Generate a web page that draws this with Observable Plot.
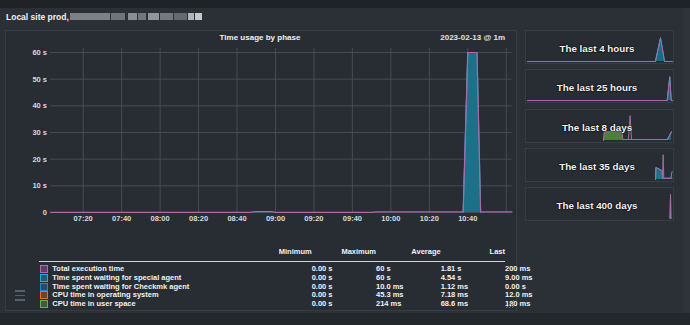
<!DOCTYPE html>
<html><head><meta charset="utf-8">
<script src="https://cdn.jsdelivr.net/npm/d3@7"></script>
<script src="https://cdn.jsdelivr.net/npm/@observablehq/plot@0.6"></script>
<style>
html,body{margin:0;padding:0}
body{width:690px;height:325px;overflow:hidden;position:relative;background:#2a3036;font-family:"Liberation Sans",Arial,sans-serif;color:#fff}
.abs{position:absolute}
.t{position:absolute;white-space:nowrap;line-height:1}
#topband{left:0;top:0;width:690px;height:8px;background:#1f2327}
#bottomband{left:0;top:313px;width:690px;height:12px;background:#23282d}
#rightstrip{left:683px;top:8px;width:7px;height:305px;background:#2e343a}
#main{left:5px;top:30px;width:510px;height:279px;border:1px solid #363d44;background:#272d33}
.mini{left:525px;width:147px;height:32px;border:1px solid #363d44;background:#272d33}
svg{overflow:visible}
</style></head><body>
<div id="topband" class="abs"></div>
<div id="bottomband" class="abs"></div>
<div id="rightstrip" class="abs"></div>
<div id="main" class="abs"></div>
<script>
// ---------- data ----------
const pageTitle = "Local site prod,";
const chartTitle = "Time usage by phase";
const chartDate = "2023-02-13 @ 1m";
const xDomain = ["07:03", "11:03"];
const xTickLabels = ["07:20","07:40","08:00","08:20","08:40","09:00","09:20","09:40","10:00","10:20","10:40"];
const xGridExtra = ["11:00"];
const yTicks = [0, 10, 20, 30, 40, 50, 60];
const yTickLabels = ["0", "10 s", "20 s", "30 s", "40 s", "50 s", "60 s"];

const totalTimes  = ["07:03","08:47","08:49","08:58","09:00","09:50","09:52","10:37:36","10:40","10:44:48","10:46:42","11:03"];
const totalValues = [0.05, 0.05, 0.3, 0.3, 0.05, 0.05, 0.2, 0.2, 60, 60, 0.2, 0.2];
const specialTimes  = ["10:37:36","10:40","10:44:48","10:46:42"];
const specialValues = [0, 60, 60, 0];

const seriesNames  = ["Total execution time","Time spent waiting for special agent","Time spent waiting for Checkmk agent","CPU time in operating system","CPU time in user space"];
const seriesColors = ["#b36cb3","#1fb0e0","#2b7fd4","#e0702c","#5cb846"];
const columnHeaders = ["Minimum","Maximum","Average","Last"];
const minLabels  = ["0.00 s","0.00 s","0.00 s","0.00 s","0.00 s"];
const maxLabels  = ["60 s","60 s","10.0 ms","45.3 ms","214 ms"];
const avgLabels  = ["1.81 s","4.54 s","1.12 ms","7.18 ms","68.6 ms"];
const lastLabels = ["200 ms","9.00 ms","0.00 s","12.0 ms","180 ms"];

// mini graphs (x = time before now, in hours or days)
const miniTitles = ["The last 4 hours","The last 25 hours","The last 8 days","The last 35 days","The last 400 days"];
const miniSpans  = [4, 25, 8, 35, 400];
const miniTotalX = [
  [-4, -0.47, -0.33, -0.22, 0],
  [-25, -0.91, -0.47, -0.22, 0],
  [-3.81, -3.76, -2.78, -2.74, -2.43, -2.34, -2.26, -0.28, -0.06],
  [-4.1, -4.0, -2.5, -2.4, -2.25, -2.1, -0.4, -0.1],
  [-6.5, -5.5, -4.5]
];
const miniTotalY = [
  [0, 0, 60, 0, 0],
  [0, 0, 60, 0, 0],
  [0, 22, 22, 2.5, 2.5, 62, 2.5, 2.5, 22],
  [0, 30, 22, 3, 62, 3, 3, 3, 22],
  [0, 60, 0]
];
const miniSpecialX = [
  [-0.47, -0.33, -0.22],
  [-0.91, -0.47, -0.22],
  [-2.74, -0.28, -0.06],
  [-4.1, -4.0, -2.5, -2.4, -0.4, -0.1],
  [-6.5, -5.5, -4.5]
];
const miniSpecialY = [
  [0, 58, 0],
  [0, 58, 0],
  [2.5, 2.5, 20],
  [0, 30, 22, 3, 3, 20],
  [0, 60, 0]
];
const miniUserX = [[], [], [-3.81, -3.76, -2.78, -2.74], [-4.1, -4.0, -2.5, -2.4], [-6.5, -5.5, -4.5]];
const miniUserY = [[], [], [0, 20, 20, 0], [0, 20, 18, 0], [0, 45, 0]];

// ---------- helpers ----------
const T = s => { const [h, m, sec] = s.split(":").map(Number); return new Date(Date.UTC(2023, 1, 13, h, m, sec || 0)); };
function text(str, x, y, o = {}) {
  const d = document.createElement("div");
  d.className = "t";
  d.textContent = str;
  const size = o.size || 7.5;
  d.style.fontSize = size + "px";
  d.style.fontWeight = o.weight || "bold";
  d.style.color = o.color || "#f2f2f2";
  d.style.left = x + "px";
  d.style.top = y + "px";
  const tx = o.anchor === "end" ? "-100%" : o.anchor === "middle" ? "-50%" : "0";
  d.style.transform = `translate(${tx},-50%)`;
  if (o.shadow) d.style.textShadow = "0 0 2px #000, 0 0 1px #000";
  document.body.appendChild(d);
  return d;
}
function box(x, y, w, h, bg) {
  const d = document.createElement("div");
  d.className = "abs";
  Object.assign(d.style, {left: x + "px", top: y + "px", width: w + "px", height: h + "px", background: bg});
  document.body.appendChild(d);
  return d;
}
const font = "'Liberation Sans', Arial, sans-serif";

// ---------- header ----------
text(pageTitle, 6, 17, {size: 8.5});
// obscured hostname
const blur = [[70,13,40,"#8a9096"],[111,13,14,"#7b8187"],[128,13,9,"#9aa0a5"],[138,13,8,"#7d8389"],[148,13,11,"#a3a8ad"],[160,13,13,"#80868c"],[174,13,13,"#6f757b"],[188,13,6,"#c9cdd1"],[195,13,7,"#e0e3e6"]];
blur.forEach(([x,y,w,c]) => { const b = box(x, y, w, 7, c); b.style.filter = "blur(0.7px)"; b.style.opacity = 0.85; });

text(chartTitle, 260, 37.7, {size: 8, anchor: "middle"});
text(chartDate, 505, 37.7, {size: 8, anchor: "end", color: "#e2e4e6"});

// ---------- main chart ----------
const totalData = totalTimes.map((t, i) => ({t: T(t), v: totalValues[i]}));
const specialData = specialTimes.map((t, i) => ({t: T(t), v: specialValues[i]}));
const xTicks = xTickLabels.map(T);
const gridTimes = xTickLabels.concat(xGridExtra).map(T);

const chart = Plot.plot({
  width: 520, height: 185,
  marginLeft: 50, marginRight: 8.5, marginTop: 8, marginBottom: 13,
  style: {background: "transparent", color: "#d6dadd", fontSize: "7.5px", fontWeight: "bold", fontFamily: font},
  x: {type: "utc", domain: xDomain.map(T), label: null},
  y: {domain: [0, 61.5], label: null},
  marks: [
    Plot.gridY(yTicks, {stroke: "#454c54", strokeOpacity: 1}),
    Plot.gridX(gridTimes, {stroke: "#454c54", strokeOpacity: 1}),
    Plot.areaY(specialData, {x: "t", y: "v", fill: "#1c7189", curve: "linear"}),
    Plot.lineY(specialData, {x: "t", y: "v", stroke: "#22a9d6", strokeWidth: 1}),
    Plot.lineY(totalData, {x: "t", y: "v", stroke: "#a86aa8", strokeWidth: 1.2}),
    Plot.axisY(yTicks, {tickSize: 0, tickPadding: 3.5, label: null, tickFormat: d => yTickLabels[yTicks.indexOf(d)]}),
    Plot.axisX(xTicks, {tickSize: 0, tickPadding: 3.5, label: null, tickFormat: d3.utcFormat("%H:%M")})
  ]
});
chart.style.position = "absolute";
chart.style.left = "0px";
chart.style.top = "40px";
document.body.appendChild(chart);

// ---------- legend ----------
const colX = [311.7, 376, 440.7, 505];
columnHeaders.forEach((h, i) => text(h, colX[i], 251.7, {size: 7.5, anchor: "end"}));
box(39, 260.5, 466, 1, "#cfd3d6");
const rowY = seriesNames.map((_, i) => 269.3 + i * 8.7);
seriesNames.forEach((n, i) => {
  const sw = box(39.5, rowY[i] - 4, 6, 6, d3.interpolateRgb("#272d33", seriesColors[i])(0.35));
  sw.style.border = "1px solid " + seriesColors[i];
  text(n, 52.3, rowY[i], {size: 7.5});
  [minLabels, maxLabels, avgLabels, lastLabels].forEach((col, j) => text(col[i], colX[j], rowY[i], {size: 7.5}));
});
// menu icon
[291, 295.5, 300].forEach(y => box(15, y - 0.75, 10, 1.5, "#56616b"));
// resize handle
const rh = document.createElementNS("http://www.w3.org/2000/svg", "svg");
rh.setAttribute("width", 10); rh.setAttribute("height", 10);
rh.style.position = "absolute"; rh.style.left = "505px"; rh.style.top = "299px";
rh.innerHTML = '<path d="M9 1L1 9M9 4L4 9M9 7L7 9" stroke="#7a838b" stroke-width="0.9"/>';
document.body.appendChild(rh);

// ---------- mini graphs ----------
const miniTops = [30, 69, 109, 148, 187];
miniTitles.forEach((title, i) => {
  const p = box(525, miniTops[i], 147, 32, "#272d33");
  p.className = "abs mini";
  p.style.top = miniTops[i] + "px";
  const tot = miniTotalX[i].map((x, j) => ({x, v: miniTotalY[i][j]}));
  const sp = miniSpecialX[i].map((x, j) => ({x, v: miniSpecialY[i][j]}));
  const us = miniUserX[i].map((x, j) => ({x, v: miniUserY[i][j]}));
  const m = Plot.plot({
    width: 145, height: 30, margin: 0,
    style: {background: "transparent"},
    x: {domain: [-miniSpans[i], 0], axis: null},
    y: {domain: [0, 75], axis: null},
    marks: [
      Plot.areaY(us, {x: "x", y: "v", fill: "#4e7f3a", curve: "linear"}),
      Plot.areaY(sp, {x: "x", y: "v", fill: "#1c7189", fillOpacity: 0.9, curve: "linear"}),
      Plot.lineY(sp, {x: "x", y: "v", stroke: "#22a9d6", strokeWidth: 1}),
      Plot.lineY(tot, {x: "x", y: "v", stroke: "#a86aa8", strokeWidth: 1})
    ]
  });
  m.style.position = "absolute";
  m.style.left = "527px";
  m.style.top = (miniTops[i] + 1) + "px";
  document.body.appendChild(m);
  text(title, 597, miniTops[i] + 18.7, {size: 9.8, anchor: "middle", shadow: true});
});
</script>
</body></html>
